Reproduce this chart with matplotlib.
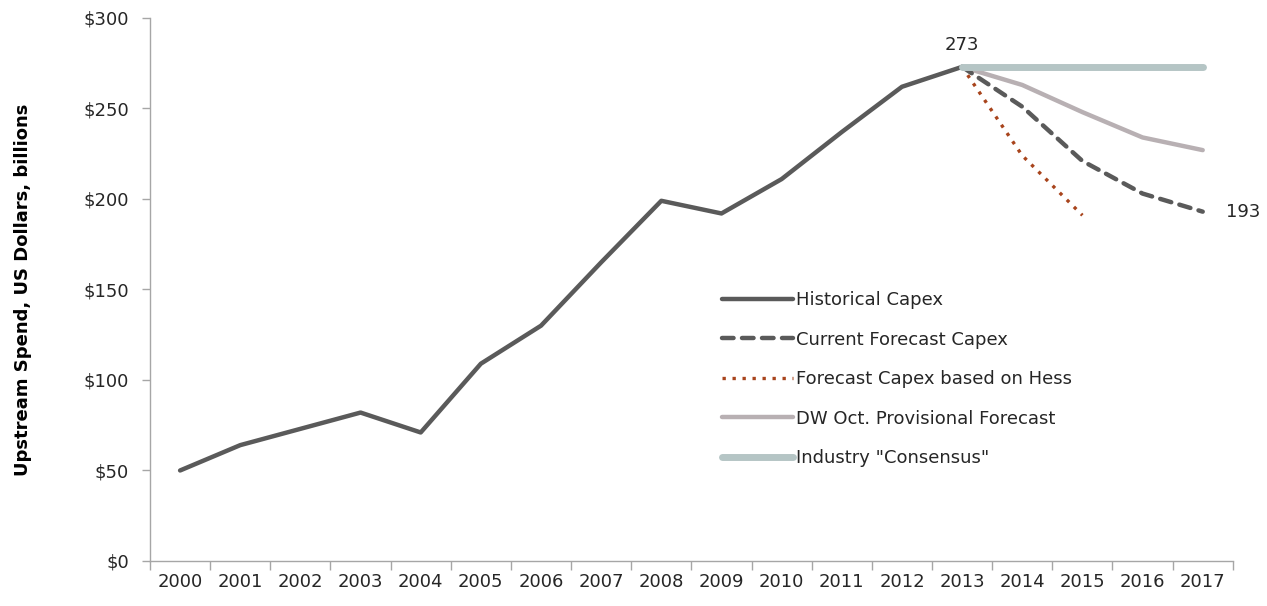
import numpy as np
import matplotlib
matplotlib.use("Agg")
import matplotlib.pyplot as plt
from matplotlib.ticker import FixedLocator, FuncFormatter

# valeurs (milliards USD)
annees = list(range(2000, 2018))
historique = [50, 64, 73, 82, 71, 109, 130, 165, 199, 192, 211, 237, 262, 273]
prevision_actuelle = [273, 251, 221, 203, 193]
prevision_hess = [273, 224, 191]
prevision_dw = [273, 263, 248, 234, 227]
consensus = [273, 273, 273, 273, 273]

noms_series = ["Historical Capex", "Current Forecast Capex", "Forecast Capex based on Hess",
               "DW Oct. Provisional Forecast", 'Industry "Consensus"']

plt.rcParams['font.family'] = ['DejaVu Sans']

fig = plt.figure(figsize=(12.67, 6.06), dpi=100)
ax = fig.add_axes([0.1184, 0.0743, 0.8546, 0.8960])

x = np.arange(len(annees))
i13 = annees.index(2013)

ax.plot(x[:len(historique)], historique, color='#5a5a5a', lw=3.2,
        solid_capstyle='round', solid_joinstyle='round', label=noms_series[0], zorder=3)
ax.plot(x[i13:i13 + len(prevision_actuelle)], prevision_actuelle, color='#5a5a5a', lw=3.2,
        dashes=(2.6, 1.9), dash_capstyle='round', label=noms_series[1], zorder=3)
ax.plot(x[i13:i13 + len(prevision_hess)], prevision_hess, color='#a8441c', lw=2.4,
        linestyle=(0, (1, 2.0)), label=noms_series[2], zorder=3)
ax.plot(x[i13:i13 + len(prevision_dw)], prevision_dw, color='#b8b0b3', lw=3.2,
        solid_capstyle='round', label=noms_series[3], zorder=2)
ax.plot(x[i13:i13 + len(consensus)], consensus, color='#b5c5c5', lw=5,
        solid_capstyle='round', label=noms_series[4], zorder=4)

ax.set_xlim(-0.5, len(annees) - 0.5)
ax.set_ylim(0, 300)

ax.xaxis.set_major_locator(FixedLocator(x))
ax.set_xticklabels([str(a) for a in annees])
ax.xaxis.set_minor_locator(FixedLocator(np.arange(-0.5, len(annees), 1.0)))
ax.tick_params(axis='x', which='major', length=0, pad=9, labelsize=13, labelcolor='#262626')
ax.tick_params(axis='x', which='minor', length=6.5, width=1, color='#a6a6a6', direction='out')

ax.set_yticks(np.arange(0, 301, 50))
ax.yaxis.set_major_formatter(FuncFormatter(lambda v, p: f"${int(v)}"))
ax.tick_params(axis='y', length=6, width=1, color='#a6a6a6', pad=9, labelsize=13,
               labelcolor='#262626')

for s in ['top', 'right']:
    ax.spines[s].set_visible(False)
for s in ['left', 'bottom']:
    ax.spines[s].set_color('#a6a6a6')
    ax.spines[s].set_linewidth(1)

ax.set_ylabel("Upstream Spend, US Dollars, billions", fontsize=13, fontweight='bold',
              labelpad=37, color='#000000')

ax.annotate(str(historique[-1]), (x[i13], historique[-1]), xytext=(0, 9),
            textcoords='offset points', ha='center', va='bottom', fontsize=13, color='#262626')
ax.annotate(str(prevision_actuelle[-1]), (x[-1], prevision_actuelle[-1]), xytext=(17, 0),
            textcoords='offset points', ha='left', va='center', fontsize=13, color='#262626')

leg = ax.legend(loc='upper left', bbox_to_anchor=(0.522, 0.51), frameon=False, fontsize=13,
                handlelength=3.9, handletextpad=0.15, labelspacing=1.19, borderaxespad=0)
for t in leg.get_texts():
    t.set_color('#262626')

fig.savefig("out.png", dpi=100)
